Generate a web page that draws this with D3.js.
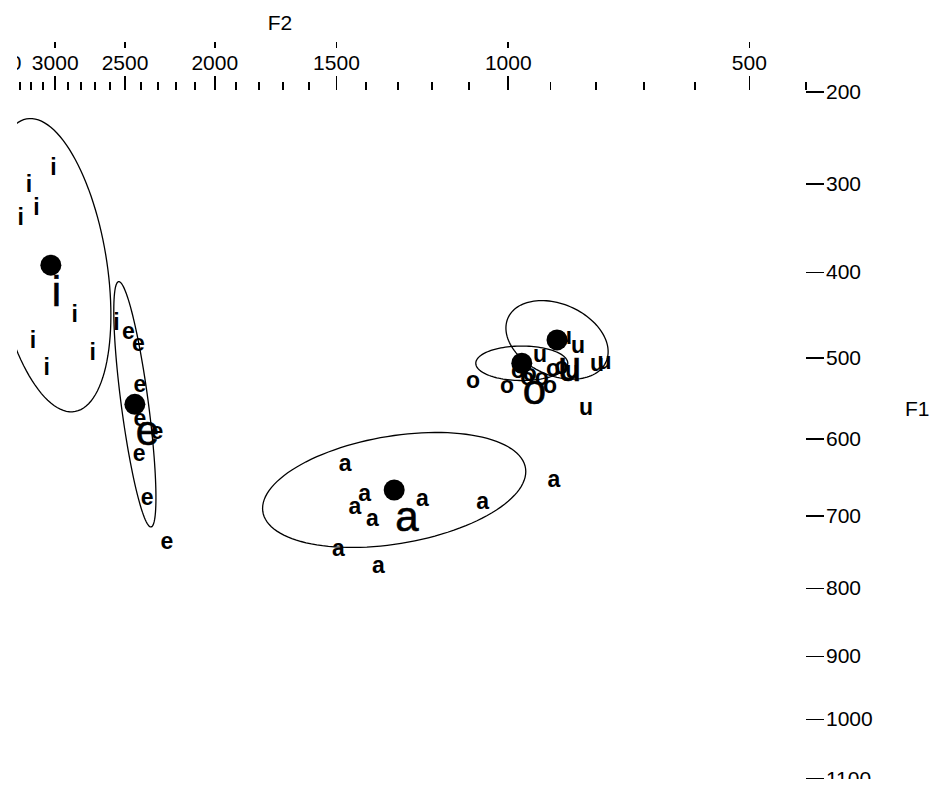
<!DOCTYPE html>
<html><head><meta charset="utf-8">
<script src="https://cdn.jsdelivr.net/npm/d3@7"></script>
<style>
html,body{margin:0;padding:0;background:#fff;}
svg{display:block;}
text{font-family:"Liberation Sans",Arial,sans-serif;}
</style></head>
<body>
<svg id="chart" width="934" height="786"></svg>
<script>
// ---- data (Hz) ----
const vowels = ["i", "e", "a", "o", "u"];
const meanF1 = [392, 557, 666, 507, 479];
const meanF2 = [3031, 2435, 1310, 966, 884];
// spread of each vowel in Bark units and F1/F2 correlation
const sdF1 = [1.53, 1.28, 0.60, 0.18, 0.41];
const sdF2 = [0.94, 0.33, 2.06, 0.72, 0.80];
const rhoF1F2 = [-0.34, -0.76, 0.32, 0.0, -0.3];

const tokI_F1 = [282, 300, 326, 337, 448, 479, 511, 493, 458];
const tokI_F2 = [3010, 3215, 3150, 3288, 2845, 3179, 3064, 2714, 2552];
const tokE_F1 = [471, 485, 534, 576, 621, 677, 737, 593];
const tokE_F2 = [2476, 2414, 2404, 2404, 2408, 2361, 2246, 2304];
const tokA_F1 = [633, 672, 690, 706, 679, 683, 654, 747, 770];
const tokA_F2 = [1468, 1403, 1435, 1378, 1226, 1063, 891, 1492, 1359];
const tokO_F1 = [529, 536, 515, 536, 521, 517, 526, 526, 513];
const tokO_F2 = [1088, 1002, 893, 900, 947, 975, 953, 919, 874];
const tokU_F1 = [487, 509, 506, 562, 476, 498, 517];
const tokU_F2 = [837, 796, 780, 820, 866, 923, 850];

const f2Major = [3500, 3000, 2500, 2000, 1500, 1000, 500];
const f2Minor = d3.range(3300, 399, -100);
const f1Ticks = [200, 300, 400, 500, 600, 700, 800, 900, 1000, 1100];

// ---- Bark (Zwicker) ----
const bark = f => 13 * Math.atan(0.00076 * f) + 3.5 * Math.atan((f / 7500) ** 2);

const svg = d3.select("#chart");
svg.append("defs").append("clipPath").attr("id", "clip")
  .append("rect").attr("x", 17).attr("y", 0).attr("width", 934).attr("height", 779);
const g = svg.append("g").attr("clip-path", "url(#clip)");

const x = d3.scaleLinear().domain([bark(3500), bark(400)]).range([-2.4, 805.7]);
const y = d3.scaleLinear().domain([bark(200), bark(1100)]).range([91.7, 778.3]);

// ---- F2 axis (top) ----
const axTop = 90;
const fmt = d => d3.format("d")(d);
const a1 = g.append("g").attr("transform", `translate(0,${axTop})`)
  .call(d3.axisTop(x).tickValues(f2Minor.map(bark)).tickSize(8).tickFormat(""));
a1.select(".domain").remove();
const a2 = g.append("g").attr("transform", `translate(0,${axTop})`)
  .call(d3.axisTop(x).tickValues(f2Major.map(bark)).tickSize(14).tickPadding(6)
    .tickFormat((d, i) => fmt(f2Major[i])));
a2.select(".domain").remove();
const a3 = g.append("g").attr("transform", `translate(0,48)`)
  .call(d3.axisTop(x).tickValues(f2Major.map(bark)).tickSize(6).tickFormat(""));
a3.select(".domain").remove();

// ---- F1 axis (right) ----
const a4 = g.append("g").attr("transform", `translate(806,0)`)
  .call(d3.axisRight(y).tickValues(f1Ticks.map(bark)).tickSize(18).tickPadding(2)
    .tickFormat((d, i) => fmt(f1Ticks[i])));
a4.select(".domain").remove();

g.selectAll(".tick line").attr("stroke", "#000").attr("stroke-width", 1.6)
  .attr("shape-rendering", "crispEdges");
g.selectAll(".tick text").attr("fill", "#000").style("font-size", "21px")
  .style("font-family", "'Liberation Sans', Arial, sans-serif");

g.append("text").attr("x", 280).attr("y", 22).attr("dy", "0.36em")
  .attr("text-anchor", "middle").style("font-size", "21px").text("F2");
g.append("text").attr("x", 905).attr("y", 408).attr("dy", "0.36em")
  .attr("text-anchor", "start").style("font-size", "21px").text("F1");

// ---- ellipses ----
const ts = d3.range(0, 121).map(k => k / 120 * 2 * Math.PI);
const line = d3.line().curve(d3.curveLinearClosed);
vowels.forEach((v, i) => {
  const m1 = bark(meanF1[i]), m2 = bark(meanF2[i]);
  const r = rhoF1F2[i], q = Math.sqrt(1 - r * r);
  const pts = ts.map(t => {
    const z2 = m2 + sdF2[i] * Math.cos(t);
    const z1 = m1 + sdF1[i] * (r * Math.cos(t) + q * Math.sin(t));
    return [x(z2), y(z1)];
  });
  g.append("path").attr("d", line(pts)).attr("fill", "none")
    .attr("stroke", "#000").attr("stroke-width", 1.3);
});

// ---- tokens ----
const tokens = [
  ["i", tokI_F1, tokI_F2], ["e", tokE_F1, tokE_F2], ["a", tokA_F1, tokA_F2],
  ["o", tokO_F1, tokO_F2], ["u", tokU_F1, tokU_F2]
];
tokens.forEach(([v, f1s, f2s]) => {
  g.selectAll(null).data(f1s.map((f1, k) => ({ f1, f2: f2s[k] }))).enter()
    .append("text")
    .attr("x", d => x(bark(d.f2))).attr("y", d => y(bark(d.f1)))
    .attr("dy", v === "i" ? "0.36em" : "0.27em")
    .attr("text-anchor", "middle")
    .style("font-size", "23px").style("font-weight", "bold")
    .attr("fill", "#000").text(v);
});

// ---- means ----
vowels.forEach((v, i) => {
  const cx = x(bark(meanF2[i])), cy = y(bark(meanF1[i]));
  g.append("circle").attr("cx", cx).attr("cy", cy).attr("r", 10.5).attr("fill", "#000");
  g.append("text").attr("x", cx + 1).attr("y", cy).attr("dy", "0.98em")
    .attr("text-anchor", "start").style("font-size", "42px")
    .attr("fill", "#000").attr("stroke", "#000").attr("stroke-width", 0.6)
    .text(v);
});
</script>
</body></html>
